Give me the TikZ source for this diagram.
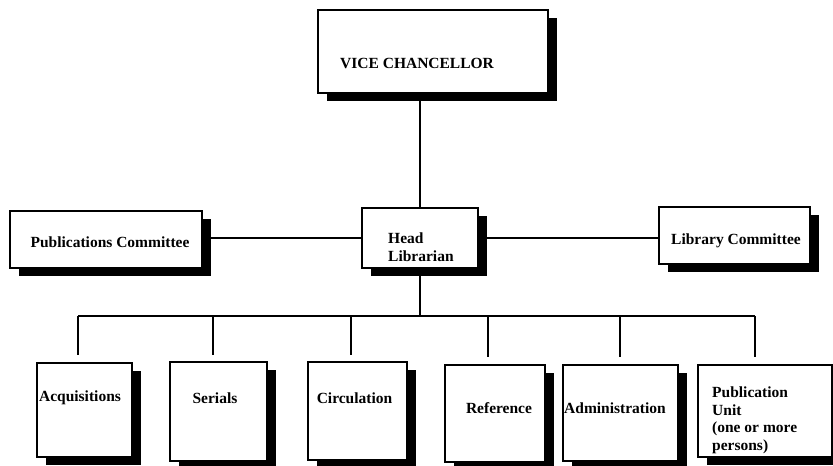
\documentclass[tikz,border=0pt]{standalone}
\usepackage{fontspec}
\setmainfont{Liberation Serif}
\usetikzlibrary{shadows}
\begin{document}
\begin{tikzpicture}[x=1pt,y=-1pt,
  unitbox/.style={draw=black, line width=1.2pt, fill=white, inner sep=0pt,
    general shadow={fill=black, shadow xshift=9pt, shadow yshift=-8pt}},
  lbl/.style={font=\bfseries\fontsize{15.5}{17.5}\selectfont, inner sep=0pt, align=left},
  link/.style={line width=1.2pt, black}]
\useasboundingbox (0,0) rectangle (833,466);
\clip (0,0) rectangle (833,466);

% boxes
\node[unitbox, minimum width=230pt, minimum height=83pt] (vc)   at (433,51.5) {};
\node[unitbox, minimum width=192pt, minimum height=57pt] (pubc) at (106,239.5) {};
\node[unitbox, minimum width=116pt, minimum height=60pt] (head) at (420,238) {};
\node[unitbox, minimum width=151pt, minimum height=57pt] (libc) at (734.5,235.5) {};
\node[unitbox, minimum width=95pt,  minimum height=94pt] (acq)  at (84.5,410) {};
\node[unitbox, minimum width=97pt,  minimum height=99pt] (ser)  at (218.5,411.5) {};
\node[unitbox, minimum width=99pt,  minimum height=98pt] (circ) at (357.5,411) {};
\node[unitbox, minimum width=100pt, minimum height=97pt] (ref)  at (495,413.5) {};
\node[unitbox, minimum width=115pt, minimum height=96pt] (adm)  at (620.5,413) {};
\node[unitbox, minimum width=134pt, minimum height=92pt] (pubu) at (765,411) {};

% labels
\node[lbl, anchor=west] (vct) at (340,63) {VICE CHANCELLOR};
\node[lbl] (pubct) at (110,242) {Publications Committee};
\node[lbl, anchor=west] (headt) at (388,247) {Head\\Librarian};
\node[lbl] (libct) at (736,241) {Library Committee};
\node[lbl] (acqt)  at (80,398)  {Acquisitions};
\node[lbl] (sert)  at (215,398) {Serials};
\node[lbl] (circt) at (354.5,398) {Circulation};
\node[lbl] (reft)  at (499,408) {Reference};
\node[lbl] (admt)  at (615,408) {Administration};
\node[lbl, anchor=north west] (pubut) at (712,387) {Publication\\Unit\\(one or more\\persons)};

% ends of the drops above the department boxes
\coordinate (bus)   at (420,316);
\coordinate (acqin) at (78,355);
\coordinate (serin) at (213,355);
\coordinate (cirin) at (351,355);
\coordinate (refin) at (488,357);
\coordinate (admin) at (620,357);
\coordinate (pubin) at (755,357);

% connectors
\draw[link] (vc.south -| head.north) -- (head.north);
\draw[link] (pubc.east |- head.west) -- (head.west);
\draw[link] (head.east) -- (libc.west |- head.east);
\draw[link] (head.south) -- (bus);
\draw[link] (acqin |- bus) -- (pubin |- bus);
\foreach \d in {acqin,serin,cirin,refin,admin,pubin}
  \draw[link] (\d |- bus) -- (\d);
\end{tikzpicture}
\end{document}
